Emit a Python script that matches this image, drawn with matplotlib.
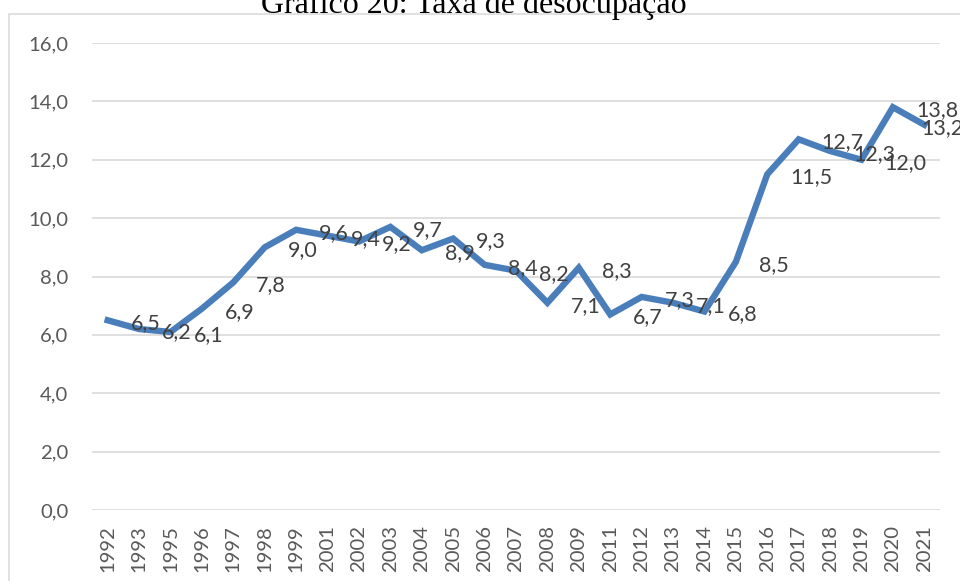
import matplotlib
matplotlib.use("Agg")
import matplotlib.pyplot as plt
from matplotlib.patches import Rectangle

years = ["1992", "1993", "1995", "1996", "1997", "1998", "1999", "2001", "2002",
         "2003", "2004", "2005", "2006", "2007", "2008", "2009", "2011", "2012",
         "2013", "2014", "2015", "2016", "2017", "2018", "2019", "2020", "2021"]
rates = [6.5, 6.2, 6.1, 6.9, 7.8, 9.0, 9.6, 9.4, 9.2, 9.7, 8.9, 9.3, 8.4, 8.2,
         7.1, 8.3, 6.7, 7.3, 7.1, 6.8, 8.5, 11.5, 12.7, 12.3, 12.0, 13.8, 13.2]
yticks = [0, 2, 4, 6, 8, 10, 12, 14, 16]
title = "Gráfico 20: Taxa de desocupação"

W, H = 960, 581
fig = plt.figure(figsize=(W / 100, H / 100), dpi=100)
fig.patch.set_facecolor("white")

# chart border
fig.patches.append(Rectangle((9 / W, -0.1), 1.2, 1.1 - 14.5 / H + 0.0, transform=fig.transFigure,
                             fill=False, edgecolor="#d9d9d9", linewidth=1.1, zorder=0))

ax = fig.add_axes([92 / W, 71 / H, (940 - 92) / W, (510 - 43) / H])
x = list(range(len(years)))
ax.plot(x, rates, color="#4a7ebb", linewidth=4.6, solid_joinstyle="miter", zorder=3,
        clip_on=False)

ax.set_xlim(-0.5, len(years) - 0.5)
ax.set_ylim(0, 16)
ax.set_yticks(yticks)
ax.set_yticklabels([f"{v:.1f}".replace(".", ",") for v in yticks])
ax.set_xticks(x)
ax.set_xticklabels(years, rotation=90)
ax.grid(axis="y", color="#d9d9d9", linewidth=1.2)
ax.set_axisbelow(True)
for s in ax.spines.values():
    s.set_visible(False)
ax.tick_params(axis="both", length=0, labelcolor="#595959", labelsize=14.6)
ax.tick_params(axis="y", pad=17)
ax.tick_params(axis="x", pad=11)
for lab in ax.get_xticklabels() + ax.get_yticklabels():
    lab.set_fontfamily("Lato")

for i, v in enumerate(rates):
    dx = 23 if i < len(rates) - 1 else -3
    ax.annotate(f"{v:.1f}".replace(".", ","), (i, v), xytext=(dx, -3),
                textcoords="offset pixels", ha="left", va="center",
                fontsize=15.5, color="#404040", family="Lato", zorder=4,
                annotation_clip=False)

fig.text(474 / W, 1 - 13.5 / H, title, ha="center", va="baseline",
         family="Liberation Serif", fontsize=23, color="black")

fig.savefig("out.png", dpi=100)
